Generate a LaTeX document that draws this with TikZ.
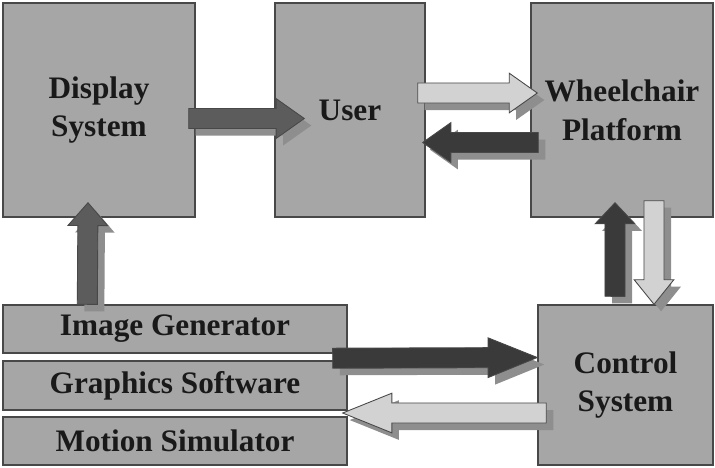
\documentclass[tikz,border=0pt]{standalone}
\usepackage{fontspec}
\setmainfont{Liberation Serif}[BoldFont={Liberation Serif Bold}]
\newfontfamily\labelfont{Liberation Serif}[BoldFont={Liberation Serif Bold}]
\usepackage{tikz}
\usetikzlibrary{calc,shadows}

\definecolor{boxgray}{HTML}{A6A6A6}
\definecolor{edgegray}{HTML}{484848}
\definecolor{midarrow}{HTML}{5C5C5C}
\definecolor{darkarrow}{HTML}{3A3A3A}
\definecolor{lightarrow}{HTML}{D2D2D2}
\definecolor{shadowgray}{HTML}{8E8E8E}

\tikzset{
  block/.style={draw=edgegray, line width=0.8pt, fill=boxgray, align=center,
    text=black!90, font=\labelfont\fontsize{17.8}{22}\selectfont\bfseries, inner sep=0pt},
  head len/.store in=\barhl, head len=16pt,
  barrow/.style={draw=edgegray, line width=0.5pt,
    drop shadow={shadow xshift=4pt, shadow yshift=-4pt, fill=shadowgray, opacity=1},
    to path={let \p1=(\tikztostart), \p2=(\tikztotarget),
      \n1={atan2(\y2-\y1,\x2-\x1)}, \n2={veclen(\x2-\x1,\y2-\y1)} in
      {[shift={(\p1)}, rotate=\n1]
       (0pt,-5.7pt) -- ({\n2*1pt-\barhl},-5.7pt) -- ({\n2*1pt-\barhl},-11.3pt)
       -- ({\n2*1pt},0pt) -- ({\n2*1pt-\barhl},11.3pt) -- ({\n2*1pt-\barhl},5.7pt)
       -- (0pt,5.7pt) -- cycle}}}
}

\begin{document}
\begin{tikzpicture}
\useasboundingbox (0,0) rectangle (14.3,-9.34);

% Upper row
\node[block, minimum width=3.84cm, minimum height=4.28cm] (disp) at (1.98,-2.2) {Display\\System};
\node[block, minimum width=3.0cm, minimum height=4.28cm] (user) at (7.0,-2.2) {User};
\node[block, minimum width=3.64cm, minimum height=4.28cm] (wheel) at (12.44,-2.2) {Wheelchair\\Platform};

% Lower row
\node[block, minimum width=6.88cm, minimum height=0.96cm] (img) at (3.5,-6.58) {Image Generator};
\node[block, minimum width=6.88cm, minimum height=0.98cm] (gfx) at (3.5,-7.71) {Graphics Software};
\node[block, minimum width=6.88cm, minimum height=0.96cm] (mot) at (3.5,-8.82) {Motion Simulator};
\node[block, minimum width=3.5cm, minimum height=3.2cm] (ctrl) at (12.51,-7.7) {Control\\System};

% Block arrows
\draw[barrow, fill=midarrow] ($(disp.east)+(-0.14,-0.17)$) to ($(user.west)+(0.6,-0.17)$);
\draw[barrow, fill=lightarrow] ($(user.east)+(-0.16,0.34)$) to ($(wheel.west)+(0.14,0.34)$);
\draw[barrow, fill=darkarrow] ($(wheel.west)+(0.16,-0.65)$) to ($(user.east)+(-0.06,-0.65)$);
\draw[barrow, fill=midarrow, head len=13pt] ($(img.north west)+(1.7,0)$) to ($(disp.south)+(-0.22,0.3)$);
\draw[barrow, fill=darkarrow, head len=28pt] ($(img.south east)+(-0.3,-0.09)$) to ($(ctrl.west)+(0,0.55)$);
\draw[barrow, fill=lightarrow, head len=28pt] ($(ctrl.west)+(0.18,-0.56)$) to ($(gfx.east)+(-0.1,-0.55)$);
\draw[barrow, fill=darkarrow, head len=12pt] ($(ctrl.north)+(-0.21,0.16)$) to ($(wheel.south)+(-0.14,0.3)$);
\draw[barrow, fill=lightarrow, head len=14pt] ($(wheel.south)+(0.64,0.34)$) to ($(ctrl.north)+(0.57,0)$);
\end{tikzpicture}
\end{document}
